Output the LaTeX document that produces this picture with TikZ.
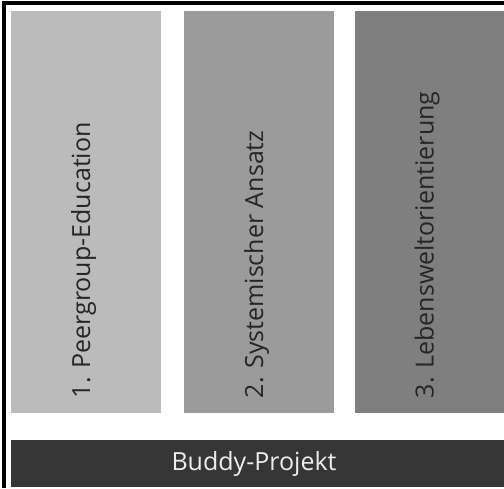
\documentclass[tikz,border=0pt]{standalone}
\usepackage{fontspec}
\setmainfont{Open Sans}
\definecolor{grauA}{HTML}{BBBBBB}
\definecolor{grauB}{HTML}{9B9B9B}
\definecolor{grauC}{HTML}{7F7F7F}
\definecolor{balken}{HTML}{363636}
\begin{document}
\begin{tikzpicture}[x=1pt,y=1pt,font=\fontsize{25}{30}\selectfont]
    \tikzset{saeule/.style={fill=#1, inner sep=0pt, minimum width=150pt, minimum height=402pt, anchor=north west},
             saeultext/.style={rotate=90, anchor=base west, text=black!85, inner sep=0pt}}
    \def\oben{477} \def\lift{15} % Oberkante, Textabstand
    \useasboundingbox (0,0) rectangle (504,488);
    \draw[line width=4pt] (3.5,0)--(3.5,484.5)--(504,484.5);
    \node[saeule=grauA] (s1) at (11,\oben) {};
    \node[saeule=grauB] (s2) at (184,\oben) {};
    \node[saeule=grauC, minimum width=149pt] (s3) at (355,\oben) {};
    \node[saeultext] (t1) at ([xshift=4pt,yshift=\lift pt]s1.south) {1. Peergroup-Education};
    \node[saeultext] (t2) at ([xshift=4pt,yshift=\lift pt]s2.south) {2. Systemischer Ansatz};
    \node[saeultext] (t3) at ([xshift=4pt,yshift=\lift pt]s3.south) {3. Lebensweltorientierung};
    \node[fill=balken, inner sep=0pt, minimum width=493pt, minimum height=47pt, anchor=north west] (bp) at (11,48) {};
    \node[anchor=base, text=white!93!black, font=\fontsize{25}{30}\selectfont] (bt) at (254,18) {Buddy-Projekt};
\end{tikzpicture}
\end{document}
